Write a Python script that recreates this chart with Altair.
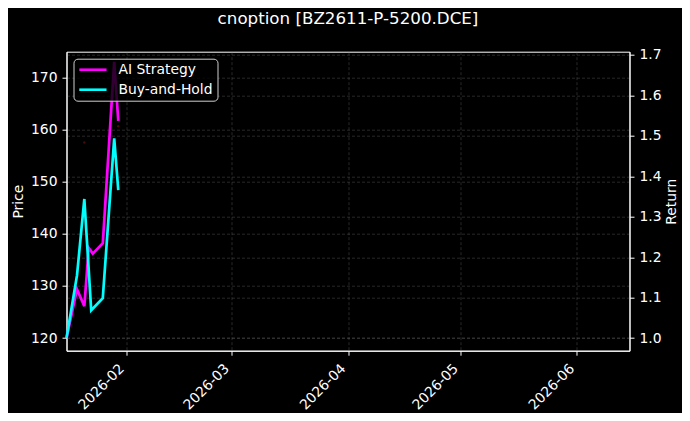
import altair as alt
import pandas as pd

# ---- data ----
ai_dates = ["2026-01-16T00:00:00", "2026-01-18T19:00:00", "2026-01-20T18:00:00",
            "2026-01-21T22:00:00", "2026-01-23T00:00:00", "2026-01-25T16:00:00",
            "2026-01-28T17:00:00", "2026-01-29T19:00:00"]
ai_values = [1.000, 1.121, 1.079, 1.223, 1.209, 1.235, 1.683, 1.537]

bh_dates = ["2026-01-16T00:00:00", "2026-01-18T19:00:00", "2026-01-20T18:00:00",
            "2026-01-22T14:00:00", "2026-01-25T16:00:00", "2026-01-28T17:00:00",
            "2026-01-29T19:00:00"]
bh_values = [1.000, 1.155, 1.344, 1.069, 1.099, 1.494, 1.366]

price_dates = ["2026-01-20T18:00:00", "2026-01-29T19:00:00"]
price_values = [157.5, 160.6]

series_names = ["AI Strategy", "Buy-and-Hold"]
series_colors = ["#ff00ff", "#00ffff"]
price_ticks = [120, 130, 140, 150, 160, 170]
return_ticks = [1.0, 1.1, 1.2, 1.3, 1.4, 1.5, 1.6, 1.7]
month_ticks = [(2026, 2), (2026, 3), (2026, 4), (2026, 5), (2026, 6)]
price_domain = [117.6, 174.9]
return_domain = [0.969, 1.708]

lines_df = pd.concat([
    pd.DataFrame({"date": pd.to_datetime(ai_dates), "value": ai_values, "series": series_names[0]}),
    pd.DataFrame({"date": pd.to_datetime(bh_dates), "value": bh_values, "series": series_names[1]}),
])
price_df = pd.DataFrame({"date": pd.to_datetime(price_dates), "price": price_values})

FONT = "DejaVu Sans"

x_enc = alt.X(
    "date:T",
    scale=alt.Scale(domain=[alt.DateTime(year=2026, month=1, date=16),
                            alt.DateTime(year=2026, month=6, date=15)]),
    axis=alt.Axis(
        title=None,
        values=[alt.DateTime(year=y, month=m, date=1) for y, m in month_ticks],
        format="%Y-%m",
        labelAngle=315,
        labelAlign="right",
        labelBaseline="bottom",
        labelPadding=16,
        grid=True,
    ),
)

price_layer = alt.Chart(price_df).mark_circle(size=6, color="#7a1010", opacity=0.6).encode(
    x=x_enc,
    y=alt.Y(
        "price:Q",
        scale=alt.Scale(domain=price_domain, nice=False, zero=False),
        axis=alt.Axis(orient="left", title="Price", values=price_ticks,
                      titlePadding=5, grid=True),
    ),
)

lines_layer = alt.Chart(lines_df).mark_line(strokeWidth=2.7).encode(
    x=x_enc,
    y=alt.Y(
        "value:Q",
        scale=alt.Scale(domain=return_domain, nice=False, zero=False),
        axis=alt.Axis(orient="right", title="Return", values=return_ticks, format=".1f",
                      titleAngle=270, titleBaseline="top", titlePadding=3, grid=True),
    ),
    color=alt.Color(
        "series:N",
        scale=alt.Scale(domain=series_names, range=series_colors),
        legend=alt.Legend(
            title=None, orient="top-left", offset=7,
            fillColor="rgba(0,0,0,0.8)", strokeColor="#d0d0d0",
            cornerRadius=4, padding=4,
            symbolType="M-1,0H4.2", symbolSize=110, symbolStrokeWidth=2.6,
            labelColor="white", labelFontSize=13.9, labelFont=FONT,
            labelOffset=27, rowPadding=6,
        ),
    ),
)

chart = alt.layer(price_layer, lines_layer).resolve_scale(y="independent").properties(
    width=563,
    height=299,
    autosize="none",
    padding={"left": 58.5, "top": 43.7, "right": 52.5, "bottom": 62},
    title=alt.TitleParams(
        "cnoption [BZ2611-P-5200.DCE]", color="white", fontSize=16.7, font=FONT,
        fontWeight="normal", anchor="middle", offset=20,
    ),
).configure(background="#000000").configure_view(
    stroke="white", strokeWidth=1
).configure_axis(
    domainColor="white", domainWidth=1,
    tickColor="white", tickSize=4.5, tickWidth=1,
    labelColor="white", labelFont=FONT, labelFontSize=13.9, labelPadding=5,
    titleColor="white", titleFont=FONT, titleFontSize=13.9, titleFontWeight="normal",
    gridColor="#7a7a7a", gridOpacity=0.55, gridDash=[3, 2], gridWidth=0.6,
)

chart.save("out.html", embed_options={"renderer": "svg", "actions": False})
